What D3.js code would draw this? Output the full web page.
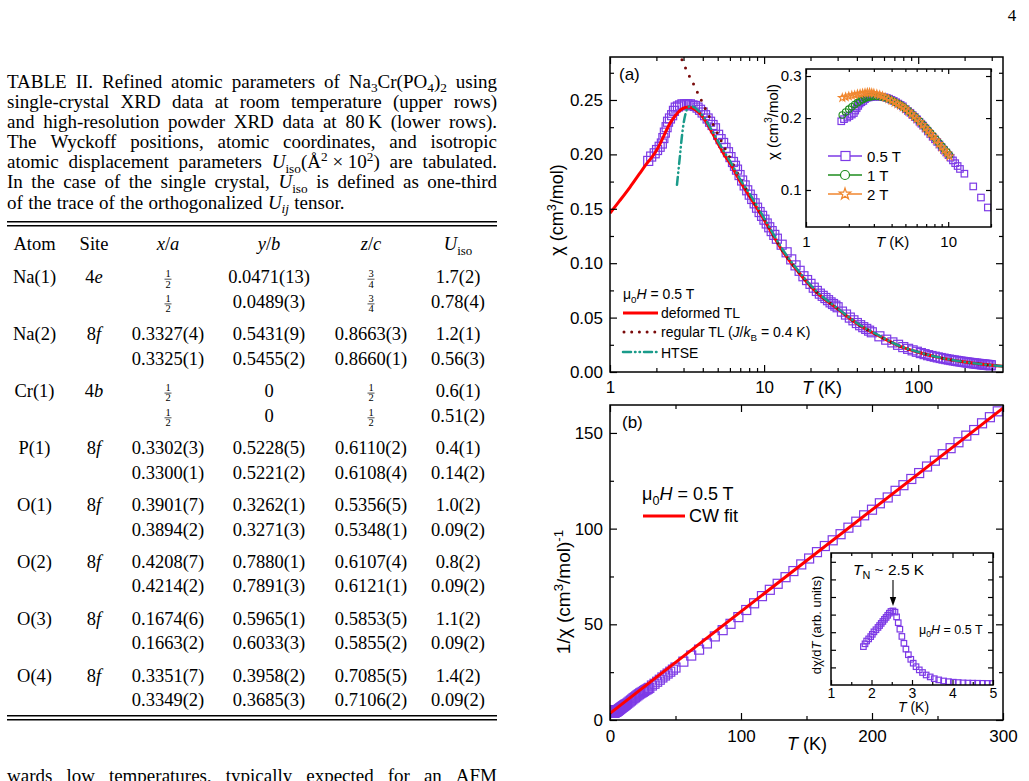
<!DOCTYPE html>
<html>
<head>
<meta charset="utf-8">
<script src="https://cdn.jsdelivr.net/npm/d3@7"></script>
<style>
body { margin: 0; background: #fff; }
svg { display: block; }
</style>
</head>
<body>
<svg id="page" width="1029" height="781"></svg>
<script>
// ---------------- data ----------------
// chi(T) at 0.5 T; panel (b) shows 1/chi of the same points
const tempK = [1.77,1.85,1.95,2.02,2.1,2.17,2.22,2.27,2.33,2.38,2.45,2.53,2.6,2.67,2.76,2.85,2.95,3.07,3.18,3.3,
  3.43,3.56,3.7,3.84,3.99,4.14,4.3,4.46,4.63,4.8,5.03,5.22,5.42,5.62,5.83,6.05,6.28,6.47,6.67,6.93,
  7.2,7.48,7.77,8.07,8.37,8.68,9.0,9.35,9.7,10.05,10.4,10.8,11.2,11.65,12.1,
  13,14,15,16,17,18,19,20,21,22,23,24,25,26,27,28,29,30,32,34,36,38,40,42,44,46,48,
  50,56,62,68,74,80,86,92,98,104,110,116,122,128,134,140,146,152,158,164,170,176,182,188,194,
  200,206,212,218,224,230,236,242,248,254,260,266,272,278,284,290,296]
const chiHalfT = [0.194,0.198,0.201,0.204,0.207,0.210,0.215,0.220,0.225,0.230,0.233,0.236,0.240,0.243,0.244,0.245,0.246,0.246,0.246,0.246,
  0.245,0.2445,0.243,0.241,0.2385,0.236,0.233,0.230,0.227,0.224,0.218,0.214,0.2105,0.206,0.202,0.1975,0.193,0.1895,0.186,0.181,
  0.176,0.1715,0.167,0.163,0.159,0.155,0.151,0.147,0.1435,0.140,0.1365,0.133,0.1295,0.126,0.1225,
  0.117,0.110,0.1035,0.098,0.093,0.088,0.0845,0.081,0.0775,0.0745,0.072,0.070,0.068,0.066,0.064,0.0625,0.061,0.0595,
  0.0555,0.0528,0.050,0.0475,0.045,0.043,0.0412,0.0396,0.038,
  0.0365,0.0328,0.0297,0.0272,0.0250,0.0229,0.0213,0.0199,0.0186,0.0174,0.0164,0.01545,0.0147,0.01405,0.0134,0.01285,
  0.0123,0.01185,0.0114,0.0110,0.01065,0.0103,0.00995,0.00965,0.00935,0.0091,0.00883,0.0086,0.00835,0.00815,0.00794,
  0.00775,0.00755,0.00738,0.0072,0.00704,0.00689,0.00673,0.0066,0.00645,0.00632,0.0062]

// model curves in panel (a)
const deformedT = [1,1.15,1.35,1.55,1.73,1.85,1.96,2.1,2.25,2.45,2.65,2.85,3.05,3.25,3.5,3.8,4.2,4.6,5.0,5.5,6.0,7.0,8.0,10,13,17,22,30,40,55,75,100,140,200,270,355]
const deformedChi = [0.146,0.157,0.170,0.182,0.1915,0.1965,0.2015,0.209,0.218,0.2285,0.2355,0.2405,0.243,0.2436,0.242,0.238,0.230,0.220,0.2105,0.200,0.1921,0.175,0.162,0.140,0.1125,0.0905,0.073,0.058,0.0445,0.0335,0.024,0.0182,0.0130,0.0091,0.0068,0.0052]
const regularT = [2.93,3.1,3.3,3.5,3.75,4.0,4.5,5.0,5.5,6.0,7.0,8.0,10,13,17,22,30,40,55,75,100,140,200,270,355]
const regularChi = [0.287,0.279,0.271,0.264,0.255,0.247,0.232,0.219,0.207,0.197,0.178,0.1635,0.1405,0.1128,0.0907,0.0732,0.0582,0.0446,0.0336,0.0241,0.0183,0.0131,0.0092,0.0068,0.0052]
const htseT = [2.72,2.78,2.85,2.92,3.0,3.1,3.2,3.35,3.5,3.75,4.0,4.5,5.0,5.5,6.0,7.0,8.0,10,13,17,22,30,40,55,75,100,140,200,270,355]
const htseChi = [0.172,0.185,0.200,0.215,0.228,0.238,0.243,0.2445,0.2435,0.240,0.2355,0.224,0.2125,0.2025,0.194,0.177,0.1645,0.1415,0.114,0.0915,0.0738,0.0585,0.045,0.034,0.0243,0.0184,0.0131,0.0092,0.0069,0.0052]

// inset (a): other fields
const fieldT = [1.8,1.9,2.0,2.1,2.2,2.3,2.4,2.5,2.6,2.7,2.8,2.9,3.0,3.15,3.3,3.45,3.6,3.8,4.0,4.2,
  4.4,4.6,4.8,5.0,5.25,5.5,5.75,6.0,6.3,6.6,6.9,7.2,7.5,7.8,8.2,8.6,9.0,9.4,9.8,10.2]
const chi1T = [0.206,0.212,0.218,0.223,0.228,0.232,0.236,0.239,0.242,0.244,0.245,0.246,0.2465,0.2465,0.246,0.245,0.2435,0.241,0.2375,0.234,
  0.2305,0.227,0.2235,0.2195,0.2145,0.2095,0.2045,0.1995,0.194,0.1885,0.183,0.178,0.1735,0.169,0.163,0.1575,0.1525,0.148,0.144,0.140]
const chi2T = [0.243,0.245,0.247,0.249,0.250,0.252,0.253,0.254,0.255,0.256,0.256,0.255,0.254,0.252,0.250,0.2475,0.2445,0.2405,0.2365,0.2325,
  0.229,0.2255,0.222,0.218,0.213,0.208,0.203,0.198,0.1925,0.187,0.1815,0.1765,0.172,0.1675,0.1615,0.156,0.151,0.1465,0.1425,0.1385]
const fieldNames = ['0.5 T', '1 T', '2 T']

// panel (b): Curie-Weiss fit line
const cwT = [0, 300]
const cwInv = [3.5, 163]

// inset (b): dchi/dT
const dT = [1.8,1.84,1.88,1.93,1.98,2.02,2.06,2.11,2.16,2.2,2.24,2.28,2.32,2.36,2.4,2.44,2.48,2.53,2.58,2.62,
  2.66,2.7,2.75,2.8,2.85,2.91,2.97,3.03,3.1,3.18,3.26,3.35,3.45,3.55,3.66,3.78,3.9,4.02,4.14,4.26,4.38,4.5,4.62,4.74,4.86,4.98]
const dChi = [0.218,0.234,0.25,0.262,0.275,0.288,0.302,0.314,0.327,0.338,0.35,0.361,0.373,0.384,0.396,0.408,0.418,0.421,0.414,0.387,
  0.354,0.317,0.276,0.237,0.204,0.172,0.146,0.124,0.104,0.086,0.071,0.057,0.046,0.036,0.029,0.023,0.019,0.016,0.014,0.012,0.011,0.0105,0.01,0.0095,0.009,0.0085]

// table
const atoms = ['Na(1)','Na(2)','Cr(1)','P(1)','O(1)','O(2)','O(3)','O(4)']
const sites = [['4','e'],['8','f'],['4','b'],['8','f'],['8','f'],['8','f'],['8','f'],['8','f']]
const colX = [['1/2','1/2'],['0.3327(4)','0.3325(1)'],['1/2','1/2'],['0.3302(3)','0.3300(1)'],['0.3901(7)','0.3894(2)'],['0.4208(7)','0.4214(2)'],['0.1674(6)','0.1663(2)'],['0.3351(7)','0.3349(2)']]
const colY = [['0.0471(13)','0.0489(3)'],['0.5431(9)','0.5455(2)'],['0','0'],['0.5228(5)','0.5221(2)'],['0.3262(1)','0.3271(3)'],['0.7880(1)','0.7891(3)'],['0.5965(1)','0.6033(3)'],['0.3958(2)','0.3685(3)']]
const colZ = [['3/4','3/4'],['0.8663(3)','0.8660(1)'],['1/2','1/2'],['0.6110(2)','0.6108(4)'],['0.5356(5)','0.5348(1)'],['0.6107(4)','0.6121(1)'],['0.5853(5)','0.5855(2)'],['0.7085(5)','0.7106(2)']]
const colU = [['1.7(2)','0.78(4)'],['1.2(1)','0.56(3)'],['0.6(1)','0.51(2)'],['0.4(1)','0.14(2)'],['1.0(2)','0.09(2)'],['0.8(2)','0.09(2)'],['1.1(2)','0.09(2)'],['1.4(2)','0.09(2)']]

const captionLines = [
  ['TABLE II. Refined atomic parameters of Na', ['3','sub'], 'Cr(PO', ['4','sub'], ')', ['2','sub'], ' using'],
  ['single-crystal XRD data at room temperature (upper rows)'],
  ['and high-resolution powder XRD data at 80\u2009K (lower rows).'],
  ['The Wyckoff positions, atomic coordinates, and isotropic'],
  ['atomic displacement parameters ', ['U','i'], ['iso','sub'], '(\u00c5', ['2','sup'], '\u2005\u00d7\u200510', ['2','sup'], ') are tabulated.'],
  ['In the case of the single crystal, ', ['U','i'], ['iso','sub'], ' is defined as one-third'],
  ['of the trace of the orthogonalized ', ['U','i'], ['ij','isub'], ' tensor.']
]
const bodyLine = ['wards low temperatures, typically expected for an AFM']

// ---------------- helpers ----------------
const SANS = '"Liberation Sans", Arial, sans-serif'
const SERIF = '"Liberation Serif", "Times New Roman", serif'
const PURPLE = '#7d3ae6', GREEN = '#1e8c1e', ORANGE = '#f0862e'
const svg = d3.select('#page')
const defs = svg.append('defs')

function rich(text, parts, fs) {
  let off = 0
  parts.forEach(p => {
    const [t, st] = typeof p === 'string' ? [p, ''] : p
    let target = 0, size = fs
    if (st.includes('sub')) { target = fs * 0.25; size = fs * 0.7 }
    if (st.includes('sup')) { target = -fs * 0.38; size = fs * 0.7 }
    const ts = text.append('tspan').text(t).attr('dy', target - off).attr('font-size', size)
    if (st.startsWith('i')) ts.attr('font-style', 'italic')
    off = target
  })
  return text
}

function toWords(parts) {
  const words = [[]]
  parts.forEach(p => {
    const [t, st] = typeof p === 'string' ? [p, ''] : p
    t.split(' ').forEach((w, i) => {
      if (i > 0) words.push([])
      if (w) words[words.length - 1].push([w, st])
    })
  })
  return words.filter(w => w.length)
}

function justifyLine(g, parts, x0, width, base, fs, justify) {
  const words = toWords(parts)
  const nodes = words.map(w => rich(g.append('text').attr('y', base).attr('font-size', fs), w, fs))
  const widths = nodes.map(n => n.node().getComputedTextLength())
  let gap = justify && words.length > 1 ? (width - d3.sum(widths)) / (words.length - 1) : fs * 0.28
  gap = Math.max(gap, 3)
  let x = x0
  nodes.forEach((n, i) => { n.attr('x', x); x += widths[i] + gap })
}

function frac(g, cx, base, s) {
  const [n, d] = s.split('/')
  g.append('text').attr('x', cx).attr('y', base - 6).attr('text-anchor', 'middle').attr('font-size', 10.5).text(n)
  g.append('line').attr('x1', cx - 3.5).attr('x2', cx + 3.5).attr('y1', base - 3.8).attr('y2', base - 3.8)
    .attr('stroke', '#000').attr('stroke-width', 0.7)
  g.append('text').attr('x', cx).attr('y', base + 4.5).attr('text-anchor', 'middle').attr('font-size', 10.5).text(d)
}

function cell(g, cx, base, v, fs) {
  if (/^\d\/\d$/.test(v)) frac(g, cx, base, v)
  else g.append('text').attr('x', cx).attr('y', base).attr('text-anchor', 'middle').attr('font-size', fs).text(v)
}

// frame with inward ticks on all four sides
function frame(g, x, y, box, o) {
  const ax = (fn, scale, vals, len, fmt, tr, pad) => {
    const a = g.append('g').attr('transform', tr)
      .call(fn(scale).tickValues(vals).tickSize(-len).tickPadding(pad || 0).tickFormat(fmt || (() => '')))
    a.select('.domain').remove()
    a.attr('font-family', SANS).attr('font-size', o.fs)
    a.selectAll('line').attr('stroke-width', 1.2)
    a.selectAll('text').attr('fill', '#000')
    return a
  }
  const bt = `translate(0,${box.b})`, tp = `translate(0,${box.t})`
  const lf = `translate(${box.l},0)`, rt = `translate(${box.r},0)`
  ax(d3.axisBottom, x, o.xMajor, o.major, o.xLabels ? o.xFmt : null, bt, o.xPad)
  ax(d3.axisTop, x, o.xMajor, o.major, null, tp)
  ax(d3.axisLeft, y, o.yMajor, o.major, o.yLabels ? o.yFmt : null, lf, o.yPad)
  ax(d3.axisRight, y, o.yMajor, o.major, null, rt)
  if (o.xMinor) { ax(d3.axisBottom, x, o.xMinor, o.minor, null, bt); ax(d3.axisTop, x, o.xMinor, o.minor, null, tp) }
  if (o.yMinor) { ax(d3.axisLeft, y, o.yMinor, o.minor, null, lf); ax(d3.axisRight, y, o.yMinor, o.minor, null, rt) }
  g.append('rect').attr('x', box.l).attr('y', box.t).attr('width', box.r - box.l).attr('height', box.b - box.t)
    .attr('fill', 'none').attr('stroke', '#000').attr('stroke-width', 1.5)
}

function clip(id, box) {
  defs.append('clipPath').attr('id', id).append('rect')
    .attr('x', box.l).attr('y', box.t).attr('width', box.r - box.l).attr('height', box.b - box.t)
  return `url(#${id})`
}

function squares(g, xs, ys, x, y, side) {
  g.selectAll(null).data(d3.range(xs.length)).enter().append('rect')
    .attr('x', i => x(xs[i]) - side / 2).attr('y', i => y(ys[i]) - side / 2)
    .attr('width', side).attr('height', side)
    .attr('fill', 'none').attr('stroke', PURPLE).attr('stroke-width', 1.2)
}

function curve(g, xs, ys, x, y, color, width, dash) {
  const p = g.append('path').datum(d3.range(xs.length))
    .attr('d', d3.line().x(i => x(xs[i])).y(i => y(ys[i])).curve(d3.curveMonotoneX))
    .attr('fill', 'none').attr('stroke', color).attr('stroke-width', width)
  if (dash) p.attr('stroke-dasharray', dash).attr('stroke-linecap', 'round')
  return p
}

function label(g, x, y, parts, fs, opts = {}) {
  const t = g.append('text').attr('x', x).attr('y', y).attr('font-family', SANS).attr('font-size', fs)
  if (opts.anchor) t.attr('text-anchor', opts.anchor)
  if (opts.rotate) t.attr('transform', `rotate(-90,${x},${y})`)
  return rich(t, parts, fs)
}

// ---------------- left column: caption + table ----------------
const left = svg.append('g').attr('font-family', SERIF).attr('fill', '#000')
svg.append('text').attr('x', 1012).attr('y', 21).attr('text-anchor', 'middle')
  .attr('font-family', SERIF).attr('font-size', 17).text('4')

captionLines.forEach((ln, i) => justifyLine(left, ln, 7, 490, 87.5 + i * 20.17, 19, i < captionLines.length - 1))

const rule = y => left.append('rect').attr('x', 7).attr('y', y).attr('width', 490).attr('height', 1.5).attr('fill', '#000')
rule(221); rule(225); rule(715); rule(719)

const cols = [34.5, 94, 168, 269, 371, 458]
const FS = 18.5
const head = [['Atom'], ['Site'], [['x', 'i'], '/', ['a', 'i']], [['y', 'i'], '/', ['b', 'i']], [['z', 'i'], '/', ['c', 'i']], [['U', 'i'], ['iso', 'sub']]]
head.forEach((h, j) => rich(left.append('text').attr('x', cols[j]).attr('y', 250).attr('text-anchor', 'middle').attr('font-size', FS), h, FS))

atoms.forEach((a, i) => {
  const b = 283 + 56.95 * i
  left.append('text').attr('x', cols[0]).attr('y', b).attr('text-anchor', 'middle').attr('font-size', FS).text(a)
  rich(left.append('text').attr('x', cols[1]).attr('y', b).attr('text-anchor', 'middle').attr('font-size', FS),
    [sites[i][0], [sites[i][1], 'i']], FS)
  ;[colX, colY, colZ, colU].forEach((c, j) => {
    cell(left, cols[j + 2], b, c[i][0], FS)
    cell(left, cols[j + 2], b + 24.7, c[i][1], FS)
  })
})

justifyLine(left, bodyLine, 7, 490, 782, 19, true)

// ---------------- panel (a) ----------------
const A = { l: 610, r: 1003, t: 57, b: 372 }
const xA = d3.scaleLog().domain([1, 355]).range([A.l, A.r])
const yA = d3.scaleLinear().domain([0, 0.2895]).range([A.b, A.t])
const gA = svg.append('g')
const dA = gA.append('g').attr('clip-path', clip('clipA', A))
squares(dA, tempK, chiHalfT, xA, yA, 9)
curve(dA, deformedT, deformedChi, xA, yA, '#ff0000', 3)
curve(dA, regularT, regularChi, xA, yA, '#7a0a0a', 3, '0 9')
curve(dA, htseT, htseChi, xA, yA, '#1a9b8a', 2.5, '8 4 0.5 4 0.5 4')

const minorLog = [2,3,4,5,6,7,8,9,20,30,40,50,60,70,80,90,200,300]
frame(gA, xA, yA, A, {
  fs: 17, major: 7, minor: 4,
  xMajor: [1, 10, 100], xMinor: minorLog, xLabels: true, xFmt: d => String(d), xPad: 9,
  yMajor: d3.range(0, 0.26, 0.05), yMinor: d3.range(0.025, 0.29, 0.05), yLabels: true, yFmt: d3.format('.2f'), yPad: 7
})
label(gA, 802, 394, [['T', 'i'], ' (K)'], 18)
label(gA, 563, 210, ['\u03c7 (cm', ['3', 'sup'], '/mol)'], 18, { anchor: 'middle', rotate: true })
label(gA, 619, 80, ['(a)'], 17)

// legend (a)
label(gA, 623, 299, ['\u03bc', ['0', 'sub'], ['H', 'i'], ' = 0.5 T'], 14)
gA.append('line').attr('x1', 623).attr('x2', 658).attr('y1', 313).attr('y2', 313).attr('stroke', '#ff0000').attr('stroke-width', 3)
label(gA, 661, 318, ['deformed TL'], 14)
gA.append('line').attr('x1', 624).attr('x2', 658).attr('y1', 332).attr('y2', 332).attr('stroke', '#7a0a0a').attr('stroke-width', 3)
  .attr('stroke-dasharray', '0 7.7').attr('stroke-linecap', 'round')
label(gA, 661, 337, ['regular TL (', ['J', 'i'], '/', ['k', 'i'], ['B', 'sub'], ' = 0.4 K)'], 14)
gA.append('line').attr('x1', 623).attr('x2', 658).attr('y1', 352).attr('y2', 352).attr('stroke', '#1a9b8a').attr('stroke-width', 2.5)
  .attr('stroke-dasharray', '8 4 0.5 4 0.5 4').attr('stroke-linecap', 'round')
label(gA, 661, 358, ['HTSE'], 14)

// inset (a)
const AI = { l: 806, r: 991, t: 69, b: 227 }
const xAI = d3.scaleLog().domain([1, 20]).range([AI.l, AI.r])
const yAI = d3.scaleLog().domain([0.07, 0.321]).range([AI.b, AI.t])
const gAI = svg.append('g')
gAI.append('rect').attr('x', AI.l).attr('y', AI.t).attr('width', AI.r - AI.l).attr('height', AI.b - AI.t).attr('fill', '#fff')
const dAI = gAI.append('g').attr('clip-path', clip('clipAI', AI))
const insetIdx = d3.range(tempK.length).filter(i => tempK[i] <= 12.1 || (tempK[i] <= 20 && tempK[i] % 2 === 1))
squares(dAI, insetIdx.map(i => tempK[i]), insetIdx.map(i => chiHalfT[i]), xAI, yAI, 6.5)
dAI.selectAll(null).data(d3.range(fieldT.length)).enter().append('circle')
  .attr('cx', i => xAI(fieldT[i])).attr('cy', i => yAI(chi1T[i])).attr('r', 3.3)
  .attr('fill', 'none').attr('stroke', GREEN).attr('stroke-width', 1.1)
const star = d3.symbol(d3.symbolStar, 18)
dAI.selectAll(null).data(d3.range(fieldT.length)).enter().append('path')
  .attr('d', star).attr('transform', i => `translate(${xAI(fieldT[i])},${yAI(chi2T[i])})`)
  .attr('fill', 'none').attr('stroke', ORANGE).attr('stroke-width', 1.1)
frame(gAI, xAI, yAI, AI, {
  fs: 15, major: 5, minor: 3,
  xMajor: [1, 10], xMinor: [2,3,4,5,6,7,8,9,20], xLabels: true, xFmt: d => String(d), xPad: 9,
  yMajor: [0.1, 0.2, 0.3], yLabels: true, yFmt: d => String(d), yPad: 4.5
})
label(gAI, 876, 246.5, [['T', 'i'], ' (K)'], 15)
label(gAI, 777.5, 122, ['\u03c7 (cm', ['3', 'sup'], '/mol)'], 15, { anchor: 'middle', rotate: true })

// inset legend
const legY = [156, 175, 194], legCol = [PURPLE, GREEN, ORANGE]
fieldNames.forEach((n, i) => {
  gAI.append('line').attr('x1', 828).attr('x2', 862).attr('y1', legY[i]).attr('y2', legY[i]).attr('stroke', legCol[i]).attr('stroke-width', 1.3)
  label(gAI, 867, legY[i] + 5.5, [n], 15)
})
gAI.append('rect').attr('x', 841).attr('y', legY[0] - 4.5).attr('width', 9).attr('height', 9)
  .attr('fill', '#fff').attr('stroke', PURPLE).attr('stroke-width', 1.2)
gAI.append('circle').attr('cx', 845).attr('cy', legY[1]).attr('r', 4.5)
  .attr('fill', '#fff').attr('stroke', GREEN).attr('stroke-width', 1.2)
gAI.append('path').attr('d', d3.symbol(d3.symbolStar, 40)).attr('transform', `translate(845,${legY[2]})`)
  .attr('fill', '#fff').attr('stroke', ORANGE).attr('stroke-width', 1.2)

// ---------------- panel (b) ----------------
const B = { l: 610, r: 1003, t: 405, b: 720 }
const xB = d3.scaleLinear().domain([0, 300]).range([B.l, B.r])
const yB = d3.scaleLinear().domain([0, 164.6]).range([B.b, B.t])
const gB = svg.append('g')
const dB = gB.append('g').attr('clip-path', clip('clipB', B))
squares(dB, tempK, chiHalfT.map(c => 1 / c), xB, yB, 9)
dB.append('path').datum(d3.range(cwT.length))
  .attr('d', d3.line().x(i => xB(cwT[i])).y(i => yB(cwInv[i])))
  .attr('fill', 'none').attr('stroke', '#ff0000').attr('stroke-width', 3)
frame(gB, xB, yB, B, {
  fs: 17, major: 7, minor: 4,
  xMajor: [0, 100, 200, 300], xMinor: [50, 150, 250], xLabels: true, xFmt: d => String(d), xPad: 10,
  yMajor: [0, 50, 100, 150], yMinor: [25, 75, 125], yLabels: true, yFmt: d => String(d), yPad: 7
})
label(gB, 787, 750, [['T', 'i'], ' (K)'], 18)
label(gB, 570, 592, ['1/\u03c7 (cm', ['3', 'sup'], '/mol)', ['-1', 'sup']], 19, { anchor: 'middle', rotate: true })
label(gB, 622, 428, ['(b)'], 17)
label(gB, 642, 500, ['\u03bc', ['0', 'sub'], ['H', 'i'], ' = 0.5 T'], 18)
gB.append('line').attr('x1', 643).attr('x2', 685).attr('y1', 516).attr('y2', 516).attr('stroke', '#ff0000').attr('stroke-width', 3)
label(gB, 689, 522, ['CW fit'], 18)

// inset (b)
const BI = { l: 831, r: 993, t: 553, b: 685 }
const xBI = d3.scaleLinear().domain([1, 5]).range([BI.l, BI.r])
const yBI = d3.scaleLinear().domain([0, 0.75]).range([BI.b, BI.t])
const gBI = svg.append('g')
gBI.append('rect').attr('x', BI.l).attr('y', BI.t).attr('width', BI.r - BI.l).attr('height', BI.b - BI.t).attr('fill', '#fff')
const dBI = gBI.append('g').attr('clip-path', clip('clipBI', BI))
squares(dBI, dT, dChi, xBI, yBI, 5.5)
frame(gBI, xBI, yBI, BI, {
  fs: 14, major: 5, minor: 3,
  xMajor: [1, 2, 3, 4, 5], xMinor: [1.5, 2.5, 3.5, 4.5], xLabels: true, xFmt: d => String(d), xPad: 3,
  yMajor: [0.1, 0.2, 0.3, 0.4, 0.5, 0.6, 0.7], yLabels: false
})
label(gBI, 898, 712, [['T', 'i'], ' (K)'], 14)
label(gBI, 821, 625, ['d\u03c7/d', ['T', 'i'], ' (arb. units)'], 13, { anchor: 'middle', rotate: true })
label(gBI, 853, 575, [['T', 'i'], ['N', 'sub'], ' ~ 2.5 K'], 15.5)
gBI.append('line').attr('x1', 893).attr('x2', 893).attr('y1', 580).attr('y2', 599).attr('stroke', '#000').attr('stroke-width', 1.1)
gBI.append('path').attr('d', 'M889.8,597 L896.2,597 L893,606 Z').attr('fill', '#000')
label(gBI, 919, 634, ['\u03bc', ['0', 'sub'], ['H', 'i'], ' = 0.5 T'], 12.5)
</script>
</body>
</html>
